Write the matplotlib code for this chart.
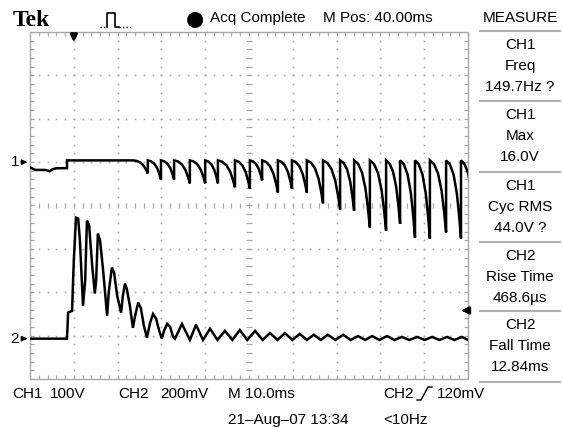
import numpy as np
import matplotlib
matplotlib.use("Agg")
import matplotlib.pyplot as plt
from matplotlib.lines import Line2D

W, H = 563, 428

# CH1 (100V/div), all in screen divisions: time 0..10, volts -4..4
ch1_pre_t = [0.0, 0.12, 0.35, 0.45, 0.52, 0.62, 0.845]
ch1_pre_v = [0.88, 0.82, 0.82, 0.79, 0.84, 0.86, 0.86]
ch1_top = 1.04
ch1_dip_t = [2.69, 2.99, 3.29, 3.65, 4.00, 4.29, 4.68, 5.02, 5.30, 5.66, 5.98,
             6.32, 6.69, 7.08, 7.40, 7.76, 8.13, 8.45, 8.79, 9.13, 9.50, 9.84, 10.18]
ch1_dip_v = [0.74, 0.60, 0.60, 0.51, 0.51, 0.51, 0.42, 0.39, 0.58, 0.30, 0.39,
             0.30, 0.05, -0.09, -0.12, -0.51, -0.58, -0.42, -0.74, -0.76, -0.62, -0.76, -0.76]
# decay shape between two dips (fraction of period, fraction of depth)
cycle_frac_t = [0.0, 0.25, 0.5, 0.72, 0.88, 1.0]
cycle_frac_d = [0.0, 0.05, 0.18, 0.42, 0.72, 1.0]

# CH2 (200mV/div) ring-up part
ch2_ring_t = [0.0, 0.845, 0.87, 0.96, 1.00, 1.05, 1.10, 1.14, 1.21, 1.26, 1.30, 1.35,
              1.42, 1.48, 1.51, 1.55, 1.60, 1.67, 1.76, 1.80, 1.87, 1.92, 1.99, 2.08,
              2.12, 2.17, 2.21, 2.28, 2.35, 2.40, 2.47, 2.53, 2.60, 2.67, 2.74, 2.81,
              2.88, 2.95, 3.01, 3.06, 3.13, 3.20, 3.26, 3.31]
ch2_ring_v = [-3.07, -3.07, -2.47, -2.43, -1.27, -0.28, -0.30, -0.81, -2.31, -1.73, -0.35, -0.46,
              -1.39, -2.03, -1.73, -0.65, -0.81, -1.50, -2.54, -1.97, -1.43, -1.55, -2.08, -2.47,
              -2.08, -1.80, -1.92, -2.31, -2.82, -2.54, -2.24, -2.36, -2.77, -3.05, -2.71, -2.50,
              -2.61, -2.89, -3.07, -2.89, -2.73, -2.80, -3.01, -3.07]
# CH2 settled ripple
ch2_peak_t = [3.47, 3.79, 4.11, 4.45, 4.79, 5.14, 5.48, 5.82, 6.16, 6.48,
              6.80, 7.15, 7.49, 7.81, 8.15, 8.49, 8.84, 9.18, 9.52, 9.86]
ch2_peak_v = [-2.73, -2.75, -2.84, -2.89, -2.87, -2.89, -2.94, -2.94, -2.96, -2.98,
              -2.98, -2.98, -3.01, -3.01, -3.01, -3.03, -3.03, -3.03, -3.03, -3.03]
ch2_trough_t = [3.65, 3.95, 4.28, 4.62, 4.96, 5.31, 5.65, 5.99, 6.32, 6.64,
                6.97, 7.32, 7.65, 7.98, 8.32, 8.66, 9.01, 9.35, 9.69, 10.0]
ch2_trough_v = -3.10

ch1_ref, ch2_ref = 1.0, -3.07
trig_t, trig_level = 1.0, -2.42

measure = [("CH1", "Freq", "149.7Hz ?"),
           ("CH1", "Max", "16.0V"),
           ("CH1", "Cyc RMS", "44.0V ?"),
           ("CH2", "Rise Time", "468.6µs"),
           ("CH2", "Fall Time", "12.84ms")]

FONT = ['Liberation Sans', 'DejaVu Sans']
grid_c = "#a8a8a8"


def fx(x):
    return x / W


def fy(y):
    return 1 - y / H


def label(x, y, s, ha="left", size=11):
    fig.text(fx(x), fy(y), s, ha=ha, va="center", fontsize=size, family=FONT, color="black")


fig = plt.figure(figsize=(W / 100, H / 100), dpi=100)
fig.patch.set_facecolor("white")
ax = fig.add_axes([30 / W, (H - 379) / H, 438 / W, 347 / H])
ax.set_xlim(0, 10)
ax.set_ylim(-4, 4)
ax.axis("off")

# graticule
ax.plot([0, 10, 10, 0, 0], [-4, -4, 4, 4, -4], color=grid_c, lw=1.0, clip_on=False)
fine_x = np.arange(0, 10.001, 0.2)
fine_y = np.arange(-4, 4.001, 0.2)
ax.vlines(fine_x, 3.9, 4, color=grid_c, lw=0.9)
ax.vlines(fine_x, -4, -3.9, color=grid_c, lw=0.9)
ax.hlines(fine_y, 0, 0.09, color=grid_c, lw=0.9)
ax.hlines(fine_y, 9.91, 10, color=grid_c, lw=0.9)
for i in range(1, 10):
    if i != 5:
        ax.plot(np.full(len(fine_y), i), fine_y, ls="none", marker="s", ms=1.2, mew=0, color=grid_c)
for j in range(-3, 4):
    if j != 0:
        ax.plot(fine_x, np.full(len(fine_x), j), ls="none", marker="s", ms=1.2, mew=0, color=grid_c)
ax.hlines(fine_y, 4.94, 5.06, color=grid_c, lw=0.9)
ax.vlines(fine_x, -0.06, 0.06, color=grid_c, lw=0.9)

# CH1 trace
xs = list(ch1_pre_t) + [0.845]
ys = list(ch1_pre_v) + [ch1_top]
prev = ch1_dip_t[0] - 0.33
for dt, dv in zip(ch1_dip_t, ch1_dip_v):
    p = dt - prev
    for ft, fd in zip(cycle_frac_t, cycle_frac_d):
        xs.append(prev + ft * p)
        ys.append(ch1_top - fd * (ch1_top - dv))
    xs.append(dt)
    ys.append(ch1_top)
    prev = dt
ax.plot(xs, ys, color="black", lw=1.8, solid_joinstyle="miter")

# CH2 trace
xs2 = list(ch2_ring_t)
ys2 = list(ch2_ring_v)
for pt, pv, tt in zip(ch2_peak_t, ch2_peak_v, ch2_trough_t):
    xs2 += [pt, tt]
    ys2 += [pv, ch2_trough_v]
ax.plot(xs2, ys2, color="black", lw=1.8, solid_joinstyle="miter")

# markers
ax.annotate("", xy=(trig_t, 3.70), xytext=(trig_t, 3.98),
            arrowprops=dict(arrowstyle="-|>", color="black", lw=2, mutation_scale=10))
ax.annotate("", xy=(9.78, trig_level), xytext=(10.0, trig_level),
            arrowprops=dict(arrowstyle="-|>", color="black", lw=2, mutation_scale=10))
for ref, name in [(ch1_ref, "1"), (ch2_ref, "2")]:
    ax.annotate("", xy=(0.0, ref), xytext=(-0.2, ref), annotation_clip=False,
                arrowprops=dict(arrowstyle="-|>", color="black", lw=1.2, mutation_scale=7))
    ax.text(-0.25, ref, name, ha="right", va="center", fontsize=11, family=FONT)

# header
fig.text(fx(13), fy(20), "Tek", ha="left", va="center", fontsize=17, fontweight="bold",
         family=["Liberation Serif", "DejaVu Serif"])
fig.add_artist(Line2D([fx(100), fx(107)], [fy(27), fy(27)], color="black", lw=1, ls=(0, (1, 1.5))))
fig.add_artist(Line2D([fx(107), fx(107), fx(115), fx(115), fx(119)],
                      [fy(27), fy(13), fy(13), fy(27), fy(27)], color="black", lw=1.2))
fig.add_artist(Line2D([fx(119), fx(131)], [fy(27), fy(27)], color="black", lw=1, ls=(0, (1, 1.5))))
fig.text(fx(195), fy(19), "●", ha="center", va="center", fontsize=15, family="DejaVu Sans")
label(210, 18, "Acq Complete")
label(323, 18, "M Pos: 40.00ms")
label(520, 18, "MEASURE", ha="center")

# measurement panel
seps = [31, 101, 172, 242, 311, 382]
for y in seps:
    fig.add_artist(Line2D([fx(480), fx(560)], [fy(y), fy(y)], color="#b0b0b0", lw=1.5))
for k, (a, b, c) in enumerate(measure):
    y0 = seps[k]
    label(520, y0 + 14, a, ha="center")
    label(520, y0 + 35, b, ha="center")
    label(520, y0 + 56, c, ha="center")

# footer
label(12, 394, "CH1")
label(50, 394, "100V")
label(118, 394, "CH2")
label(160, 394, "200mV")
label(228, 394, "M 10.0ms")
label(383, 394, "CH2")
fig.add_artist(Line2D([fx(417), fx(421), fx(428), fx(432)],
                      [fy(400), fy(400), fy(387), fy(387)], color="black", lw=1))
label(437, 394, "120mV")
label(228, 420, "21–Aug–07 13:34")
label(383, 420, "<10Hz")

fig.savefig("out.png", dpi=100, facecolor="white")
